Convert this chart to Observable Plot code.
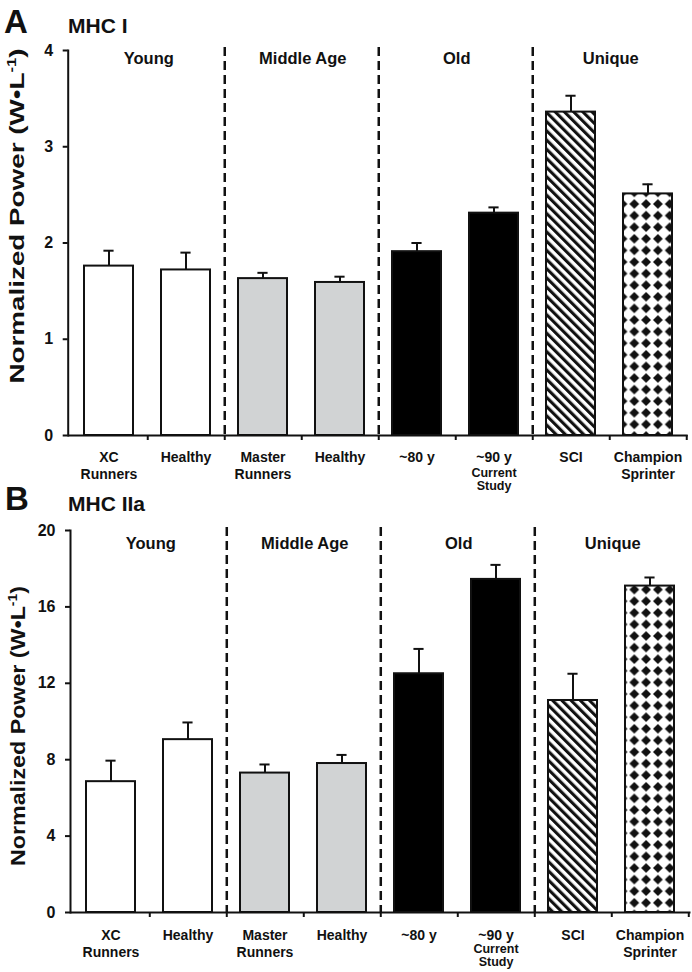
<!DOCTYPE html>
<html>
<head>
<meta charset="utf-8">
<script src="https://cdn.jsdelivr.net/npm/d3@7"></script>
<script src="https://cdn.jsdelivr.net/npm/@observablehq/plot@0.6"></script>
<style>
  body { margin: 0; background: #fff; font-family: "Liberation Sans", Arial, sans-serif; }
  #wrap { position: relative; width: 692px; height: 972px; overflow: hidden; background: #fff; }
  .panel { position: absolute; left: 0; }
  .letter { position: absolute; font-weight: bold; font-size: 33px; line-height: 1; color: #111; }
  .title { position: absolute; font-weight: bold; font-size: 21px; line-height: 1; color: #111; }
  .ylab { position: absolute; font-weight: bold; font-size: 21px; line-height: 1; white-space: nowrap; color: #111; }
  .ylab sup { font-size: 0.6em; vertical-align: 0.6em; line-height: 0; }
</style>
</head>
<body>
<div id="wrap"></div>
<script>
// ---- data ----
const categories = ["XC Runners", "Healthy (Young)", "Master Runners", "Healthy (Middle Age)", "~80 y", "~90 y", "SCI", "Champion Sprinter"];
const tickLabels = ["XC\nRunners", "Healthy", "Master\nRunners", "Healthy", "~80 y", "~90 y", "SCI", "Champion\nSprinter"];
const tickSubLabels = ["", "", "", "", "", "Current\nStudy", "", ""];
const groupNames = ["Young", "Middle Age", "Old", "Unique"];
const barFills = ["white", "white", "#d1d3d4", "#d1d3d4", "black", "black", "hatch", "diamond"];

const mhcI = [1.76, 1.72, 1.63, 1.59, 1.91, 2.31, 3.36, 2.51];
const mhcIErr = [0.16, 0.18, 0.06, 0.06, 0.09, 0.06, 0.17, 0.10];
const mhcITicks = [0, 1, 2, 3, 4];

const mhcIIa = [6.85, 9.05, 7.3, 7.8, 12.5, 17.44, 11.1, 17.09];
const mhcIIaErr = [1.1, 0.9, 0.45, 0.45, 1.3, 0.76, 1.4, 0.45];
const mhcIIaTicks = [0, 4, 8, 12, 16, 20];

const FONT = '"Liberation Sans", Arial, sans-serif';
const W = 692;

function panel({values, errs, yTicks, height, mt, mb, ml, mr, groupDy, labelDy, subDy, id}) {
  const rows = categories.map((c, i) => ({
    cat: c, value: values[i], top: values[i] + errs[i],
    fill: barFills[i] === "hatch" ? `url(#hatch-${id})` : barFills[i] === "diamond" ? `url(#diamond-${id})` : barFills[i],
    label: tickLabels[i], sub: tickSubLabels[i]
  }));
  const groupRows = groupNames.map((g, i) => ({name: g, cat: categories[2 * i]}));
  const separators = [categories[1], categories[3], categories[5]];
  const step = (W - ml - mr) / categories.length;
  const bw = step * (1 - 0.37);
  const capInset = (bw - 10) / 2;

  const svg = Plot.plot({
    width: W, height,
    marginTop: mt, marginBottom: mb, marginLeft: ml, marginRight: mr,
    style: {fontFamily: FONT, fontWeight: "bold", color: "#111", background: "none", overflow: "visible"},
    x: {domain: categories, paddingInner: 0.37, paddingOuter: 0.185},
    y: {domain: [0, yTicks[yTicks.length - 1]]},
    color: {type: "identity"},
    marks: [
      Plot.barY(rows, {x: "cat", y: "value", fill: "fill", stroke: "#111", strokeWidth: 2}),
      Plot.ruleX(rows, {x: "cat", y1: "value", y2: "top", stroke: "#111", strokeWidth: 2}),
      Plot.tickY(rows, {x: "cat", y: "top", stroke: "#111", strokeWidth: 2, insetLeft: capInset, insetRight: capInset}),
      Plot.ruleX(separators, {dx: step / 2, stroke: "#111", strokeDasharray: "9,5", strokeWidth: 2.5, insetTop: -3}),
      Plot.ruleY([0], {stroke: "#111", strokeWidth: 2}),
      Plot.frame({anchor: "left", stroke: "#111", strokeWidth: 2}),
      Plot.axisY({ticks: yTicks, tickFormat: d3.format("d"), tickSize: 5, tickPadding: 10, fontSize: 16, strokeWidth: 2, label: null}),
      Plot.axisX({ticks: categories, tickSize: 5, tickFormat: () => "", dx: step / 2, strokeWidth: 2, label: null}),
      Plot.text(rows, {x: "cat", text: "label", frameAnchor: "bottom", lineAnchor: "top", dy: labelDy, fontSize: 14, lineHeight: 1.2}),
      Plot.text(rows, {x: "cat", text: "sub", frameAnchor: "bottom", lineAnchor: "top", dy: subDy, fontSize: 12.5, lineHeight: 1.07}),
      Plot.text(groupRows, {x: "cat", text: "name", frameAnchor: "top", dy: groupDy, dx: step / 2 + 1, fontSize: 16.5, lineAnchor: "middle"})
    ]
  });

  d3.select(svg).insert("defs", ":first-child").html(`
    <pattern id="hatch-${id}" patternUnits="userSpaceOnUse" width="6.5" height="6.5" patternTransform="rotate(-45)">
      <rect width="6.5" height="6.5" fill="white"/>
      <rect width="3.1" height="6.5" fill="#111"/>
    </pattern>
    <pattern id="diamond-${id}" patternUnits="userSpaceOnUse" width="11.8" height="11.6" x="3" y="1">
      <rect width="11.8" height="11.6" fill="white"/>
      <polygon points="5.9,0.9 10.8,5.8 5.9,10.7 1.0,5.8" fill="#111"/>
    </pattern>`);
  return svg;
}

const wrap = document.getElementById("wrap");

function addDiv(cls, html, left, top) {
  const d = document.createElement("div");
  d.className = cls;
  d.innerHTML = html;
  d.style.left = left + "px";
  d.style.top = top + "px";
  wrap.appendChild(d);
  return d;
}

function addYLabel(cx, cy, length) {
  const d = addDiv("ylab", "Normalized Power (W\u2022L<sup>-1</sup>)", cx, cy);
  const w = d.getBoundingClientRect().width;
  const s = length / w;
  d.style.transform = `translate(-50%, -50%) rotate(-90deg) scale(${s}, 1)`;
}

// Panel A
const svgA = panel({values: mhcI, errs: mhcIErr, yTicks: mhcITicks, height: 490, mt: 50, mb: 55, ml: 67.7, mr: 4.3, groupDy: 8, labelDy: 15, subDy: 31.5, id: "a"});
svgA.classList.add("panel");
svgA.style.top = "0px";
wrap.appendChild(svgA);

// Panel B
const svgB = panel({values: mhcIIa, errs: mhcIIaErr, yTicks: mhcIIaTicks, height: 482, mt: 40, mb: 60, ml: 70, mr: 1.5, groupDy: 13.5, labelDy: 16, subDy: 31, id: "b"});
svgB.classList.add("panel");
svgB.style.top = "490px";
wrap.appendChild(svgB);

addDiv("letter", "A", 4, 5);
addDiv("title", "MHC I", 68, 15);
addDiv("letter", "B", 5, 482);
addDiv("title", "MHC IIa", 68, 493);
addYLabel(16, 216, 335);
addYLabel(17, 726, 280);
</script>
</body>
</html>
